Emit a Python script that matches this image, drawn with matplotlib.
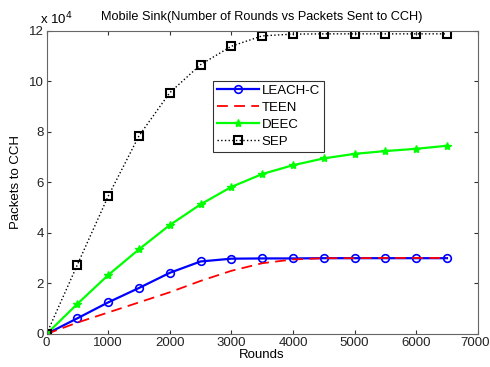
import numpy as np
import matplotlib.pyplot as plt
import matplotlib.transforms as mtransforms
from matplotlib.ticker import FuncFormatter

rounds = [0, 500, 1000, 1500, 2000, 2500, 3000, 3500, 4000, 4500, 5000, 5500, 6000, 6500]
leach_c = [0, 6200, 12500, 18200, 24200, 28700, 29800, 29900, 29900, 30000, 30000, 30000, 30000, 30000]
teen = [0, 4500, 8500, 12500, 16500, 21000, 25000, 28000, 29500, 30000, 30000, 30100, 30100, 30100]
deec = [0, 11900, 23300, 33500, 43100, 51300, 58200, 63300, 66800, 69500, 71300, 72400, 73300, 74500]
sep = [0, 27400, 54500, 78400, 95500, 106600, 113900, 118000, 118700, 118800, 118800, 118800, 118800, 118800]

plt.rcParams['font.family'] = ['Liberation Sans', 'DejaVu Sans']
plt.rcParams['font.size'] = 9.5

fig = plt.figure(figsize=(4.9, 3.67), dpi=100)
ax = fig.add_axes([0.095, 0.09, 0.88, 0.826])

ax.plot(rounds, leach_c, '-o', color='#0000ff', lw=1.6, ms=5.5, mfc='none', mew=1.2, label='LEACH-C')
ax.plot(rounds, teen, '--', color='#ff0000', lw=1.3, dashes=(6, 3.5), label='TEEN')
ax.plot(rounds, deec, '-*', color='#00ff00', lw=1.6, ms=6, label='DEEC')
ax.plot(rounds, sep, ':s', color='black', lw=1, ms=6, mfc='none', mew=1.5, label='SEP')

ax.set_xlim(0, 7000)
ax.set_ylim(0, 120000)
ax.set_xticks(np.arange(0, 7001, 1000))
ax.set_yticks(np.arange(0, 120001, 20000))
ax.yaxis.set_major_formatter(FuncFormatter(lambda v, p: '%d' % round(v / 1e4)))
ax.text(-0.015, 1.01, 'x 10$^4$', transform=ax.transAxes, fontsize=9.5, ha='left', va='bottom')

ax.tick_params(direction='in', top=True, right=True, length=3, pad=2, colors='#333333', labelcolor='#222222')
for s in ax.spines.values():
    s.set_color('#666666')

# keep the last x label inside the figure
last = ax.get_xticklabels()[-1]
last.set_transform(last.get_transform() + mtransforms.ScaledTranslation(-3 / 100, 0, fig.dpi_scale_trans))

ax.set_xlabel('Rounds', labelpad=0)
ax.set_ylabel('Packets to CCH', labelpad=5)
ax.set_title('Mobile Sink(Number of Rounds vs Packets Sent to CCH)', fontsize=9.2, pad=8)

leg = ax.legend(loc='upper left', bbox_to_anchor=(0.386, 0.835), fancybox=False, edgecolor='black',
                fontsize=9.5, handlelength=3.2, borderpad=0.3, labelspacing=0.35, handletextpad=0.2, borderaxespad=0)
leg.get_frame().set_linewidth(0.8)

fig.savefig('out.png', dpi=100)
